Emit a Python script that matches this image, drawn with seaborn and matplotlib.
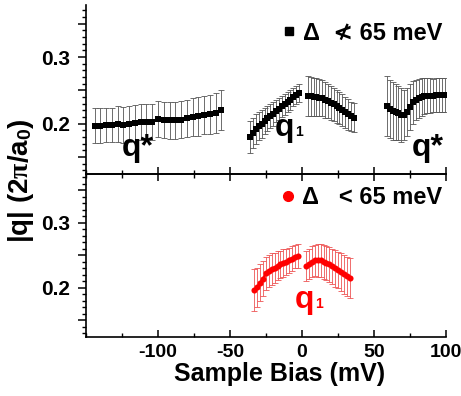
import numpy as np
import pandas as pd
import matplotlib
matplotlib.use("Agg")
import matplotlib.pyplot as plt
import seaborn as sns
from matplotlib.ticker import MultipleLocator, FuncFormatter
from matplotlib.lines import Line2D

sns.set_style("ticks")
plt.rcParams["font.family"] = ["Liberation Sans", "DejaVu Sans"]
plt.rcParams["font.weight"] = "bold"
plt.rcParams["axes.unicode_minus"] = False
plt.rcParams["text.color"] = "black"
plt.rcParams["axes.edgecolor"] = "black"
plt.rcParams["axes.labelcolor"] = "black"
plt.rcParams["xtick.color"] = "black"
plt.rcParams["ytick.color"] = "black"
plt.rcParams["mathtext.fontset"] = "custom"
plt.rcParams["mathtext.rm"] = "Liberation Sans:bold"
plt.rcParams["mathtext.bf"] = "Liberation Sans:bold"
plt.rcParams["mathtext.it"] = "Liberation Serif:bold"

# ---------------- data: upper panel (Delta not < 65 meV), black squares
bias_s1 = [-144, -140, -136, -132, -128, -124, -120, -116, -112, -108, -104, -100,
           -96, -92, -88, -84, -80, -76, -72, -68, -64, -60, -56]
q_s1 = [0.197, 0.197, 0.198, 0.198, 0.199, 0.198, 0.200, 0.201, 0.202, 0.203, 0.203, 0.207,
        0.206, 0.205, 0.205, 0.206, 0.208, 0.210, 0.211, 0.213, 0.214, 0.216, 0.221]
err_s1 = [0.026, 0.026, 0.026, 0.026, 0.027, 0.027, 0.027, 0.027, 0.027, 0.027, 0.027, 0.027,
          0.027, 0.028, 0.028, 0.028, 0.028, 0.028, 0.029, 0.029, 0.029, 0.030, 0.030]

bias_s2 = [-36, -34, -32, -30, -28, -26, -24, -22, -20, -18, -16, -14, -12, -10, -8, -6, -4, -2]
q_s2 = [0.180, 0.186, 0.192, 0.196, 0.200, 0.204, 0.208, 0.212, 0.215, 0.219, 0.222, 0.226,
        0.229, 0.233, 0.236, 0.240, 0.243, 0.246]
err_s2 = [0.024, 0.023, 0.022, 0.021, 0.021, 0.020, 0.019, 0.018, 0.018, 0.017, 0.017, 0.016,
          0.016, 0.015, 0.015, 0.014, 0.014, 0.013]

bias_s3 = [4, 6, 8, 10, 12, 14, 16, 18, 20, 22, 24, 26, 28, 30, 32, 34, 36]
q_s3 = [0.241, 0.241, 0.240, 0.240, 0.239, 0.238, 0.236, 0.234, 0.231, 0.229, 0.226, 0.223,
        0.220, 0.217, 0.214, 0.211, 0.209]
err_s3 = [0.030, 0.029, 0.029, 0.028, 0.028, 0.027, 0.027, 0.026, 0.026, 0.025, 0.025, 0.024,
          0.024, 0.023, 0.023, 0.022, 0.022]

bias_s4 = [59, 61, 63, 65, 67, 69, 71, 73, 75, 77, 79, 81, 83, 85, 87, 89, 91, 93, 95, 97, 99]
q_s4 = [0.226, 0.222, 0.219, 0.218, 0.216, 0.213, 0.213, 0.218, 0.225, 0.232, 0.236, 0.238,
        0.240, 0.241, 0.242, 0.242, 0.242, 0.243, 0.243, 0.243, 0.243]
err_s4 = [0.045, 0.044, 0.043, 0.042, 0.041, 0.040, 0.038, 0.036, 0.034, 0.032, 0.030, 0.029,
          0.028, 0.027, 0.026, 0.026, 0.025, 0.025, 0.025, 0.025, 0.025]

# ---------------- data: lower panel (Delta < 65 meV), red circles
bias_r1 = [-33, -31, -29, -27, -25, -23, -21, -19, -17, -15, -13, -11, -9, -7, -5, -3]
q_r1 = [0.197, 0.201, 0.208, 0.214, 0.222, 0.226, 0.229, 0.231, 0.234, 0.236, 0.238, 0.240,
        0.242, 0.245, 0.248, 0.249]
err_r1 = [0.032, 0.030, 0.029, 0.027, 0.026, 0.025, 0.024, 0.023, 0.022, 0.021, 0.021, 0.020,
          0.019, 0.019, 0.018, 0.018]

bias_r2 = [3, 5, 7, 9, 11, 13, 15, 17, 19, 21, 23, 25, 27, 29, 31, 33]
q_r2 = [0.233, 0.237, 0.240, 0.242, 0.242, 0.242, 0.240, 0.238, 0.236, 0.233, 0.230, 0.227,
        0.224, 0.221, 0.218, 0.215]
err_r2 = [0.023, 0.023, 0.024, 0.024, 0.025, 0.025, 0.026, 0.026, 0.027, 0.027, 0.028, 0.028,
          0.029, 0.030, 0.030, 0.031]

x_ticks = [-100, -50, 0, 50, 100]
legend_top = "\u0394  \u226e 65 meV"
legend_bot = "\u0394   < 65 meV"

W, H = 461, 396
fig = plt.figure(figsize=(W / 100, H / 100), dpi=100)
L, R = 86 / W, 446 / W
ax1 = fig.add_axes([L, 1 - 173.5 / H, R - L, (173.5 - 5) / H])
ax2 = fig.add_axes([L, 1 - 337 / H, R - L, (337 - 173.5) / H])

black_sets = [(bias_s1, q_s1, err_s1), (bias_s2, q_s2, err_s2),
              (bias_s3, q_s3, err_s3), (bias_s4, q_s4, err_s4)]
red_sets = [(bias_r1, q_r1, err_r1), (bias_r2, q_r2, err_r2)]

for bx, qy, ee in black_sets:
    ax1.errorbar(bx, qy, yerr=ee, fmt="none", ecolor="#555555", elinewidth=0.6,
                 capsize=2.5, capthick=0.6, zorder=1)
    df = pd.DataFrame({"bias": bx, "q": qy})
    sns.lineplot(data=df, x="bias", y="q", ax=ax1, color="black", lw=1.6,
                 marker="s", markersize=4.4, markeredgewidth=0, zorder=3)

for bx, qy, ee in red_sets:
    ax2.errorbar(bx, qy, yerr=ee, fmt="none", ecolor="#ee5555", elinewidth=0.6,
                 capsize=2.5, capthick=0.6, zorder=1)
    df = pd.DataFrame({"bias": bx, "q": qy})
    sns.lineplot(data=df, x="bias", y="q", ax=ax2, color="#ff0000", lw=1.8,
                 marker="o", markersize=4.4, markeredgewidth=0, zorder=3)

fmt = FuncFormatter(lambda v, p: f"{v:.1f}" if abs(round(v * 10) - v * 10) < 1e-6 else "")
for ax in (ax1, ax2):
    ax.set_xlim(-150, 100)
    ax.set_ylim(0.1255, 0.378)
    ax.set_xlabel("")
    ax.set_ylabel("")
    ax.set_xticks(x_ticks)
    ax.xaxis.set_minor_locator(MultipleLocator(25))
    ax.yaxis.set_major_locator(MultipleLocator(0.05))
    ax.yaxis.set_minor_locator(MultipleLocator(0.01))
    ax.yaxis.set_major_formatter(fmt)
    ax.spines["right"].set_visible(False)
    for s in ax.spines.values():
        s.set_linewidth(1.2)
        s.set_color("black")
    ax.tick_params(axis="y", which="major", direction="out", length=5.5, width=1.1,
                   labelsize=15, pad=6)
    ax.tick_params(axis="y", which="minor", direction="out", length=3, width=1.0)
    ax.tick_params(axis="x", which="major", direction="in", length=5, width=1.1,
                   labelsize=14, pad=5)
    ax.tick_params(axis="x", which="minor", direction="in", length=3, width=1.0)
    ax.set_facecolor("none")

ax2.set_ylim(0.1245, 0.3755)
ax1.spines["top"].set_visible(False)
ax1.tick_params(axis="x", labelbottom=False)
ax2.spines["top"].set_visible(True)
ax2.tick_params(axis="x", which="both", top=True)

h1 = [Line2D([], [], color="black", marker="s", ls="none", markersize=6, label=legend_top)]
ax1.legend(handles=h1, loc="center right", bbox_to_anchor=(0.99, 0.833), frameon=False,
           handlelength=0.6, handletextpad=0.3, borderpad=0, borderaxespad=0,
           prop={"size": 17, "weight": "bold"})
h2 = [Line2D([], [], color="#ff0000", marker="o", ls="none", markersize=7, label=legend_bot)]
ax2.legend(handles=h2, loc="center right", bbox_to_anchor=(0.99, 0.853), frameon=False,
           handlelength=0.6, handletextpad=0.3, borderpad=0, borderaxespad=0,
           prop={"size": 17, "weight": "bold"})

# annotations
ax1.text(-114, 0.152, "q*", fontsize=23, ha="center", va="baseline")
ax1.text(87.5, 0.151, "q*", fontsize=23, ha="center", va="baseline")
ax1.text(-19, 0.182, "q", fontsize=23, ha="left", va="baseline")
ax1.text(-4.5, 0.182, "1", fontsize=10, ha="left", va="baseline")
ax2.text(-5, 0.169, "q", fontsize=23, ha="left", va="baseline", color="#ff0000")
ax2.text(9, 0.169, "1", fontsize=10, ha="left", va="baseline", color="#ff0000")

fig.text(280 / W, 1 - 381 / H, "Sample Bias (mV)", fontsize=18, ha="center", va="baseline")
fig.text(21 / W, 1 - 181 / H, r"|q| (2$\pi$/a$_{0}$)", fontsize=20, rotation=90,
         ha="center", va="center")

fig.savefig("out.png", dpi=100)
